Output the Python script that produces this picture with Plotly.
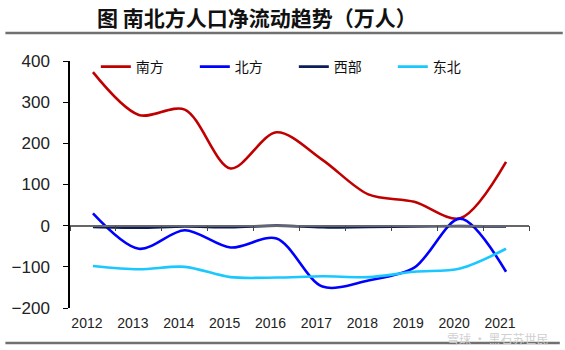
import plotly.graph_objects as go

years = ["2012", "2013", "2014", "2015", "2016", "2017", "2018", "2019", "2020", "2021"]
south = [373, 269, 282, 139, 227, 160, 76, 58, 18, 155]
north = [30, -56, -11, -53, -31, -148, -133, -102, 17, -112]
west = [-3, -5, -2, -4, 0, -4, -3, -2, -1, -2]
northeast = [-98, -106, -100, -125, -126, -123, -125, -112, -104, -56]

names = ["南方", "北方", "西部", "东北"]
colors = ["#C00000", "#0000FF", "#0B1E5B", "#1AC8FF"]
series = [south, north, west, northeast]

fig = go.Figure()
for name, vals, col in zip(names, series, colors):
    fig.add_trace(go.Scatter(
        x=years, y=vals, name=name, mode="lines",
        line=dict(color=col, width=2.6, shape="spline", smoothing=0.9),
        xaxis="x2" if name == "西部" else "x",
    ))

L, R, T, B = 67, 36, 61, 42
W, H = 565, 350
ph = H - T - B
pw = W - L - R

def py(pix):
    return (H - B - pix) / ph

def px(pix):
    return (pix - L) / pw

fig.update_layout(
    width=W, height=H,
    margin=dict(l=L, r=R, t=T, b=B),
    paper_bgcolor="white", plot_bgcolor="white",
    showlegend=True,
    legend=dict(
        orientation="h", x=px(93), y=py(67), xanchor="left", yanchor="middle",
        font=dict(family="Noto Sans CJK SC", size=14, color="#111"),
        bgcolor="rgba(0,0,0,0)", entrywidth=54, entrywidthmode="pixels",
        traceorder="normal", itemwidth=30,
    ),
    xaxis=dict(
        type="category", range=[-0.5, 9.5], showline=False, showgrid=False,
        zeroline=False, ticks="", ticklabelshift=-6, ticklabelstandoff=5,
        tickfont=dict(family="Liberation Sans", size=14, color="#222"),
    ),
    xaxis2=dict(
        type="category", range=[-0.5, 9.5], overlaying="x", matches="x",
        anchor="free", position=1/3, side="bottom",
        showline=True, linecolor="#666", linewidth=1.5,
        ticks="outside", ticklen=5, tickcolor="#444", tickwidth=1,
        tickson="boundaries", showticklabels=False, showgrid=False, zeroline=False,
    ),
    yaxis=dict(
        range=[-200, 400], dtick=100, showgrid=False, zeroline=False,
        showline=True, linecolor="#000", linewidth=1.5,
        ticks="outside", ticklen=5, tickcolor="#000",
        tickfont=dict(family="Liberation Sans", size=17, color="#222"),
        ticklabelstandoff=10,
    ),
    shapes=[
        dict(type="line", xref="paper", yref="paper", x0=px(2), x1=px(563),
             y0=py(33), y1=py(33), line=dict(color="#707070", width=2.5)),
        dict(type="line", xref="paper", yref="paper", x0=px(2), x1=px(560),
             y0=py(343), y1=py(343), line=dict(color="#707070", width=2.5)),
    ],
    annotations=[
        dict(text="<b>图 南北方人口净流动趋势（万人）</b>", xref="paper", yref="paper",
             x=px(255), y=py(17), xanchor="center", yanchor="middle", showarrow=False,
             font=dict(family="Noto Sans CJK SC", size=21, color="#111")),
        dict(text="雪球 · 黑石苏世民", xref="paper", yref="paper",
             x=px(550), y=py(338), xanchor="right", yanchor="middle", showarrow=False,
             font=dict(family="Noto Sans CJK SC", size=12, color="#d0d0d0")),
    ],
)

fig.write_html("out.html")
